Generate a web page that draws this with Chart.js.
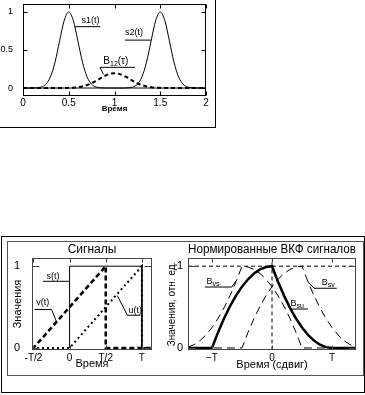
<!DOCTYPE html>
<html>
<head>
<meta charset="utf-8">
<script src="https://cdn.jsdelivr.net/npm/chart.js@4"></script>
<style>
  body { margin: 0; background: #fff; }
  #page { position: relative; width: 365px; height: 395px; overflow: hidden; }
  canvas { position: absolute; }
  .frame { position: absolute; box-sizing: border-box; }
</style>
</head>
<body>
<div id="page">
  <div class="frame" style="left:-1px;top:-1px;width:217px;height:129px;border:1px solid #000"></div>
  <div class="frame" style="left:1px;top:236px;width:364px;height:157px;border:1px solid #000"></div>
  <div class="frame" style="left:7px;top:241px;width:357px;height:135px;border:1px solid #555"></div>
  <canvas id="pulses" width="214" height="126" style="left:0;top:0"></canvas>
  <canvas id="sig" width="157" height="132" style="left:8px;top:242px"></canvas>
  <canvas id="vkf" width="198" height="132" style="left:165px;top:242px"></canvas>
</div>
<script>
// --- верхний график: два импульса и их ВКФ ---
const time = [0,0.05,0.1,0.15,0.2,0.25,0.3,0.35,0.4,0.45,0.5,0.55,0.6,0.65,0.7,0.75,0.8,0.85,0.9,0.95,
              1,1.05,1.1,1.15,1.2,1.25,1.3,1.35,1.4,1.45,1.5,1.55,1.6,1.65,1.7,1.75,1.8,1.85,1.9,1.95,2];
const s1 = [0,0,0,0.003,0.013,0.05,0.147,0.34,0.619,0.887,1,0.887,0.619,0.34,0.147,0.05,0.013,0.003,0,0,
            0,0,0,0,0,0,0,0,0,0,0,0,0,0,0,0,0,0,0,0,0];
const s2 = [0,0,0,0,0,0,0,0,0,0,0,0,0,0,0,0,0,0,0,0,
            0,0,0,0.003,0.013,0.05,0.147,0.34,0.619,0.887,1,0.887,0.619,0.34,0.147,0.05,0.013,0.003,0,0,0];
const b12 = [0,0,0,0,0,0,0,0,0,0,0.002,0.005,0.011,0.021,0.039,0.063,0.095,0.13,0.163,0.186,
             0.195,0.186,0.163,0.13,0.095,0.063,0.039,0.021,0.011,0.005,0.002,0,0,0,0,0,0,0,0,0,0];
const topXTicks = [0, 0.5, 1, 1.5, 2];
const topYTicks = [0, 0.5, 1];

// --- сигналы ---
const sT = [0, 0, 1, 1];
const sV = [0, 1, 1, 0];
const vT = [-0.52, -0.5, 0.5, 0.5, 1.14];
const vV = [0, 0, 1, 0, 0];
const uT = [-0.52, 0, 1, 1, 1.14];
const uV = [0, 0, 1, 0, 0];
const sigTicks = [-0.5, 0, 0.5, 1];
const sigLabels = ['-T/2', '0', 'T/2', 'T'];

// --- нормированные ВКФ ---
const tau = [-1.4,-1.3,-1.2,-1.1,-1,-0.9,-0.8,-0.7,-0.6,-0.5,-0.4,-0.3,-0.2,-0.1,0,
             0.1,0.2,0.3,0.4,0.5,0.6,0.7,0.8,0.9,1,1.1,1.2,1.3,1.4];
const bsu = [0,0,0,0,0,0.19,0.36,0.51,0.64,0.75,0.84,0.91,0.96,0.99,1,
             0.81,0.64,0.49,0.36,0.25,0.16,0.09,0.04,0.01,0,0,0,0,0];
const bvs = [0.01,0.04,0.09,0.16,0.25,0.36,0.49,0.64,0.81,1,0.99,0.96,0.91,0.84,0.75,
             0.64,0.51,0.36,0.19,0,0,0,0,0,0,0,0,0,0];
const bsv = [0,0,0,0,0,0,0,0,0,0,0.19,0.36,0.51,0.64,0.75,
             0.84,0.91,0.96,0.99,1,0.81,0.64,0.49,0.36,0.25,0.16,0.09,0.04,0.01];
const levelT = [-1.4, 1.4], levelV = [1, 1];
const zeroT = [0, 0], zeroV = [-0.03, 1.1];
const vkfTicks = [-1, 0, 1];
const vkfLabels = ['\u2212T', '0', 'T'];
const valTicks = [0, 1];

const FONT = '"Liberation Sans", Arial, sans-serif';
Chart.defaults.font.family = FONT;
Chart.defaults.color = '#000';

function lineDs(xs, ys, extra) {
  return Object.assign({
    data: xs.map((x, i) => ({x: x, y: ys[i]})),
    borderColor: '#000', borderWidth: 1, pointRadius: 0, fill: false
  }, extra);
}

// рамка, внутренние засечки и подписи кривых
function decor(cfg) {
  return {
    id: 'decor',
    afterDraw(chart) {
      const ctx = chart.ctx, a = chart.chartArea, x = chart.scales.x, y = chart.scales.y;
      ctx.save();
      ctx.strokeStyle = cfg.box;
      ctx.lineWidth = 1;
      ctx.setLineDash([]);
      const L = Math.round(a.left) + 0.5, R = Math.round(a.right) - 0.5;
      const T = Math.round(a.top) + 0.5, B = Math.round(a.bottom) - 0.5;
      ctx.strokeRect(L, T, R - L, B - T);
      ctx.beginPath();
      x.ticks.forEach(t => {
        const p = Math.round(x.getPixelForValue(t.value)) + 0.5;
        ctx.moveTo(p, B); ctx.lineTo(p, B - cfg.tx);
        ctx.moveTo(p, T); ctx.lineTo(p, T + cfg.tx);
      });
      y.ticks.forEach(t => {
        const p = Math.round(y.getPixelForValue(t.value)) + 0.5;
        ctx.moveTo(L, p); ctx.lineTo(L + cfg.ty, p);
        ctx.moveTo(R, p); ctx.lineTo(R - cfg.ty, p);
      });
      ctx.stroke();

      ctx.strokeStyle = '#000';
      ctx.fillStyle = '#000';
      ctx.textBaseline = 'alphabetic';
      ctx.textAlign = 'left';
      cfg.notes.forEach(n => {
        ctx.beginPath();
        n.line.forEach((pt, i) => {
          const px = x.getPixelForValue(pt[0]), py = y.getPixelForValue(pt[1]);
          if (i) ctx.lineTo(px, py); else ctx.moveTo(px, py);
        });
        ctx.stroke();
        let px = x.getPixelForValue(n.at[0]);
        const py = y.getPixelForValue(n.at[1]);
        n.parts.forEach(p => {
          ctx.font = p[1] + 'px ' + FONT;
          ctx.fillText(p[0], px, py + p[2]);
          px += ctx.measureText(p[0]).width;
        });
      });
      ctx.restore();
    }
  };
}

function axis(min, max, tickVals, labels, opts) {
  return Object.assign({
    type: 'linear', min: min, max: max,
    afterBuildTicks: s => { s.ticks = tickVals.map(v => ({value: v})); },
    grid: {display: false, drawTicks: false},
    border: {display: false}
  }, opts, {
    ticks: Object.assign({
      autoSkip: false, maxRotation: 0, color: '#000',
      callback: (v, i) => labels ? labels[i] : String(v)
    }, opts.ticks)
  });
}

// фиксированная ширина оси Y без лишнего запаса сверху и снизу
function yFit(w) {
  return s => { s.width = w; s.paddingTop = 0; s.paddingBottom = 0; };
}

const common = {
  responsive: false, animation: false, events: [],
  plugins: {legend: {display: false}, tooltip: {enabled: false}}
};

new Chart(document.getElementById('pulses'), {
  type: 'line',
  data: {datasets: [
    lineDs(time, b12, {borderWidth: 2, borderDash: [4, 3], cubicInterpolationMode: 'monotone'}),
    lineDs(time, s1, {cubicInterpolationMode: 'monotone'}),
    lineDs(time, s2, {cubicInterpolationMode: 'monotone'})
  ]},
  options: Object.assign({}, common, {
    layout: {padding: {left: 0, right: 8, top: 4, bottom: 0}},
    scales: {
      x: axis(0, 2, topXTicks, null, {
        ticks: {padding: 1, font: {size: 10}},
        title: {display: true, text: 'Время', font: {size: 8, weight: 'bold'}, padding: {top: 0, bottom: 12}},
        afterFit: s => { s.height = 30; }
      }),
      y: axis(-0.105, 1.105, topYTicks, null, {
        ticks: {padding: 10, font: {size: 9}},
        afterFit: yFit(23)
      })
    }
  }),
  plugins: [decor({box: '#000', tx: 4, ty: 4, notes: [
    {at: [0.64, 0.85], parts: [['s1(t)', 9, 0]], line: [[0.568, 0.807], [0.845, 0.807]]},
    {at: [1.115, 0.70], parts: [['s2(t)', 9, 0]], line: [[1.115, 0.63], [1.40, 0.63]]},
    {at: [0.878, 0.32], parts: [['B', 10, 0], ['12', 7, 2], ['(\u03c4)', 10, 0]],
     line: [[0.878, 0.18], [0.842, 0.272], [1.224, 0.272]]}
  ]})]
});

new Chart(document.getElementById('sig'), {
  type: 'line',
  data: {datasets: [
    lineDs(vT, vV, {borderWidth: 2.5, borderDash: [5, 3]}),
    lineDs(uT, uV, {borderWidth: 2, borderDash: [2, 3]}),
    lineDs(sT, sV, {})
  ]},
  options: Object.assign({}, common, {
    layout: {padding: {left: 0, right: 13, top: 0, bottom: 0}},
    plugins: Object.assign({}, common.plugins, {
      title: {display: true, text: 'Сигналы', fullSize: false, font: {size: 12, weight: 'normal'},
              color: '#000', padding: {top: 0, bottom: 1.6}}
    }),
    scales: {
      x: axis(-0.52, 1.14, sigTicks, sigLabels, {
        ticks: {padding: 2, font: {size: 10}},
        title: {display: true, text: 'Время', font: {size: 11}, padding: {top: 0, bottom: 3.7}},
        afterFit: s => { s.height = 24; }
      }),
      y: axis(-0.025, 1.1, valTicks, null, {
        ticks: {padding: 12, font: {size: 11}},
        title: {display: true, text: 'Значения', font: {size: 11}, padding: {top: 3.4, bottom: 0}},
        afterFit: yFit(24)
      })
    }
  }),
  plugins: [decor({box: '#444', tx: 4, ty: 7, notes: [
    {at: [-0.32, 0.84], parts: [['s(t)', 9, 0]], line: [[-0.37, 0.815], [0, 0.815]]},
    {at: [-0.46, 0.52], parts: [['v(t)', 9, 0]], line: [[-0.485, 0.47], [-0.25, 0.47], [-0.18, 0.32]]},
    {at: [0.815, 0.43], parts: [['u(t)', 9, 0]], line: [[0.66, 0.64], [0.80, 0.40], [0.975, 0.40]]}
  ]})]
});

new Chart(document.getElementById('vkf'), {
  type: 'line',
  data: {datasets: [
    lineDs(tau, bsu, {borderWidth: 2.5}),
    lineDs(tau, bvs, {borderDash: [8, 5]}),
    lineDs(tau, bsv, {borderDash: [8, 5]}),
    lineDs(levelT, levelV, {borderDash: [4, 3]}),
    lineDs(zeroT, zeroV, {borderDash: [4, 3]})
  ]},
  options: Object.assign({}, common, {
    layout: {padding: {left: 0, right: 7, top: 0, bottom: 0}},
    plugins: Object.assign({}, common.plugins, {
      title: {display: true, text: 'Нормированные ВКФ сигналов', fullSize: false, font: {size: 12, weight: 'normal'},
              color: '#000', padding: {top: 0, bottom: 1.6}}
    }),
    scales: {
      x: axis(-1.4, 1.4, vkfTicks, vkfLabels, {
        ticks: {padding: 2, font: {size: 10}},
        title: {display: true, text: 'Время (сдвиг)', font: {size: 11}, padding: {top: 0, bottom: 2.9}},
        afterFit: s => { s.height = 24; }
      }),
      y: axis(-0.025, 1.1, valTicks, null, {
        ticks: {padding: 5, font: {size: 11}},
        title: {display: true, text: 'Значения, отн. ед.', font: {size: 10}, padding: {top: 1, bottom: 0}},
        afterFit: yFit(23)
      })
    }
  }),
  plugins: [decor({box: '#444', tx: 4, ty: 7, notes: [
    {at: [-1.09, 0.78], parts: [['B', 9, 0], ['vs', 7, 2]], line: [[-1.12, 0.745], [-0.67, 0.745], [-0.6, 0.82]]},
    {at: [0.83, 0.77], parts: [['B', 9, 0], ['sv', 7, 2]], line: [[0.6, 0.81], [0.70, 0.73], [1.08, 0.73]]},
    {at: [0.31, 0.51], parts: [['B', 9, 0], ['su', 7, 2]], line: [[0.31, 0.476], [0.6, 0.476]]}
  ]})]
});
</script>
</body>
</html>
